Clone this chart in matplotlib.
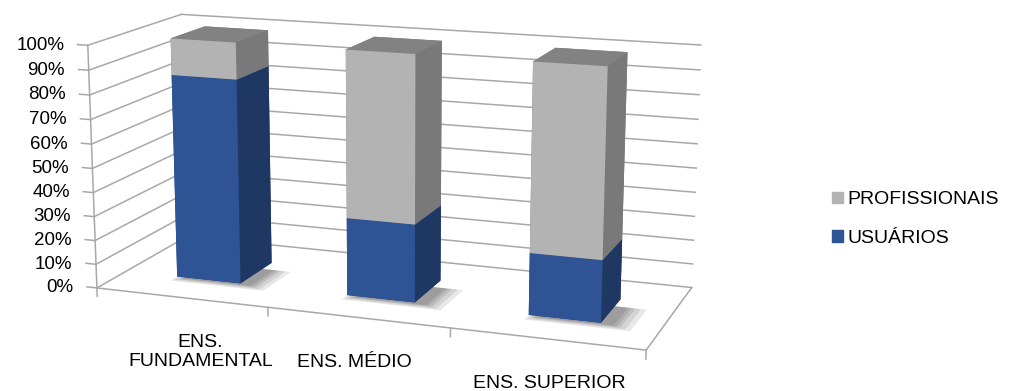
import numpy as np
import matplotlib.pyplot as plt
from matplotlib.patches import Patch
from mpl_toolkits.mplot3d import proj3d
from mpl_toolkits.mplot3d.art3d import Poly3DCollection

# data (100% stacked)
categories = ["ENS.\nFUNDAMENTAL", "ENS. MÉDIO", "ENS. SUPERIOR"]
usuarios = [0.85, 0.32, 0.25]
profissionais = [0.15, 0.68, 0.75]
series_names = ["PROFISSIONAIS", "USUÁRIOS"]
ticks = [0.0, 0.1, 0.2, 0.3, 0.4, 0.5, 0.6, 0.7, 0.8, 0.9, 1.0]
tick_labels = ["0%", "10%", "20%", "30%", "40%", "50%", "60%", "70%", "80%", "90%", "100%"]

plt.rcParams['font.family'] = ['Liberation Sans', 'DejaVu Sans']

blue_front, blue_side = '#2e5496', '#1f3763'
gray_front, gray_side, gray_top = '#b3b3b3', '#797979', '#828282'
grid = '#a8a8a8'
txt = '#000000'

fig = plt.figure(figsize=(10.18, 3.91), dpi=100)
# square 3d axes larger than the figure height so nothing gets clipped
ax = fig.add_axes([0.028, -0.38, 0.70, 1.85], projection='3d', computed_zorder=False)
ax.set_proj_type('persp', focal_length=0.5)
ax.view_init(elev=13.5, azim=-70)
depth = 1.1
ax.set_xlim(0, 3)
ax.set_ylim(0, depth)
ax.set_zlim(0, 1)
ax.set_box_aspect((3, depth, 1.32), zoom=0.89)
ax.set_axis_off()

# walls: back wall and left side wall gridlines
for t in ticks:
    ax.plot([0, 3], [depth, depth], [t, t], color=grid, lw=1.1, zorder=1)
    ax.plot([0, 0], [0, depth], [t, t], color=grid, lw=1.1, zorder=1)
    ax.plot([0, -0.06], [0, 0], [t, t], color=grid, lw=1.1, zorder=1)
# floor edges and vertical axis
ax.plot([0, 3], [0, 0], [0, 0], color=grid, lw=1.1, zorder=1)
ax.plot([3, 3], [0, depth], [0, 0], color=grid, lw=1.1, zorder=1)
ax.plot([0, 0], [0, 0], [0, 1], color=grid, lw=1.1, zorder=1)
for k in range(4):
    ax.plot([k, k], [0, 0], [0, -0.035], color=grid, lw=1.1, zorder=1)

n = len(categories)
bw, bd = 0.38, 0.42
xs = np.arange(n) + 0.5 - bw / 2
ys = np.full(n, depth / 2 - bd / 2)

# soft floor shadows (stacked translucent quads, wider = lighter)
for x0, y0 in zip(xs, ys):
    for grow in (0.12, 0.09, 0.06, 0.04, 0.02):
        x1, x2 = x0 + 0.06 - grow * 0.5, x0 + bw + 0.05 + grow
        y1, y2 = y0 - 0.01 - grow * 0.6, y0 + bd * 0.7
        quad = [[(x1, y1, 0), (x2, y1, 0), (x2, y2, 0), (x1, y2, 0)]]
        ax.add_collection3d(Poly3DCollection(quad, facecolor='#000000', alpha=0.09,
                                             edgecolor='none', zorder=2))

# bars
x_all = np.concatenate([xs, xs])
y_all = np.concatenate([ys, ys])
z_all = np.concatenate([np.zeros(n), usuarios])
h_all = np.concatenate([usuarios, profissionais])
# face order: bottom, top, front, back, left, right
blue_faces = [blue_side, blue_front, blue_front, blue_side, blue_side, blue_side]
gray_faces = [gray_side, gray_top, gray_front, gray_side, gray_side, gray_side]
colors = blue_faces * n + gray_faces * n
ax.bar3d(x_all, y_all, z_all, bw, bd, h_all, color=colors, shade=False, zorder=3)

# labels: project 3d anchor points to the 2d frame of the axes
fig.canvas.draw()
M = ax.get_proj()
for t, lab in zip(ticks, tick_labels):
    px, py, _ = proj3d.proj_transform(0, 0, t, M)
    ax.annotate(lab, (px, py), xycoords='data', xytext=(-17, 0), textcoords='offset points',
                ha='right', va='center', fontsize=13.5, color=txt)
label_dx = [14, -2, 2]
for i, cat in enumerate(categories):
    px, py, _ = proj3d.proj_transform(i + 0.5, 0, 0, M)
    ax.annotate(cat, (px, py), xycoords='data', xytext=(label_dx[i], -26),
                textcoords='offset points', ha='center', va='top', fontsize=14,
                color=txt, linespacing=1.15)

handles = [Patch(color=gray_front), Patch(color=blue_front)]
fig.legend(handles, series_names, loc='center left', bbox_to_anchor=(0.80, 0.44),
           frameon=False, fontsize=14, handlelength=0.55, handleheight=0.55,
           handletextpad=0.25, labelspacing=1.1, labelcolor=txt)

fig.savefig('out.png', dpi=100)
